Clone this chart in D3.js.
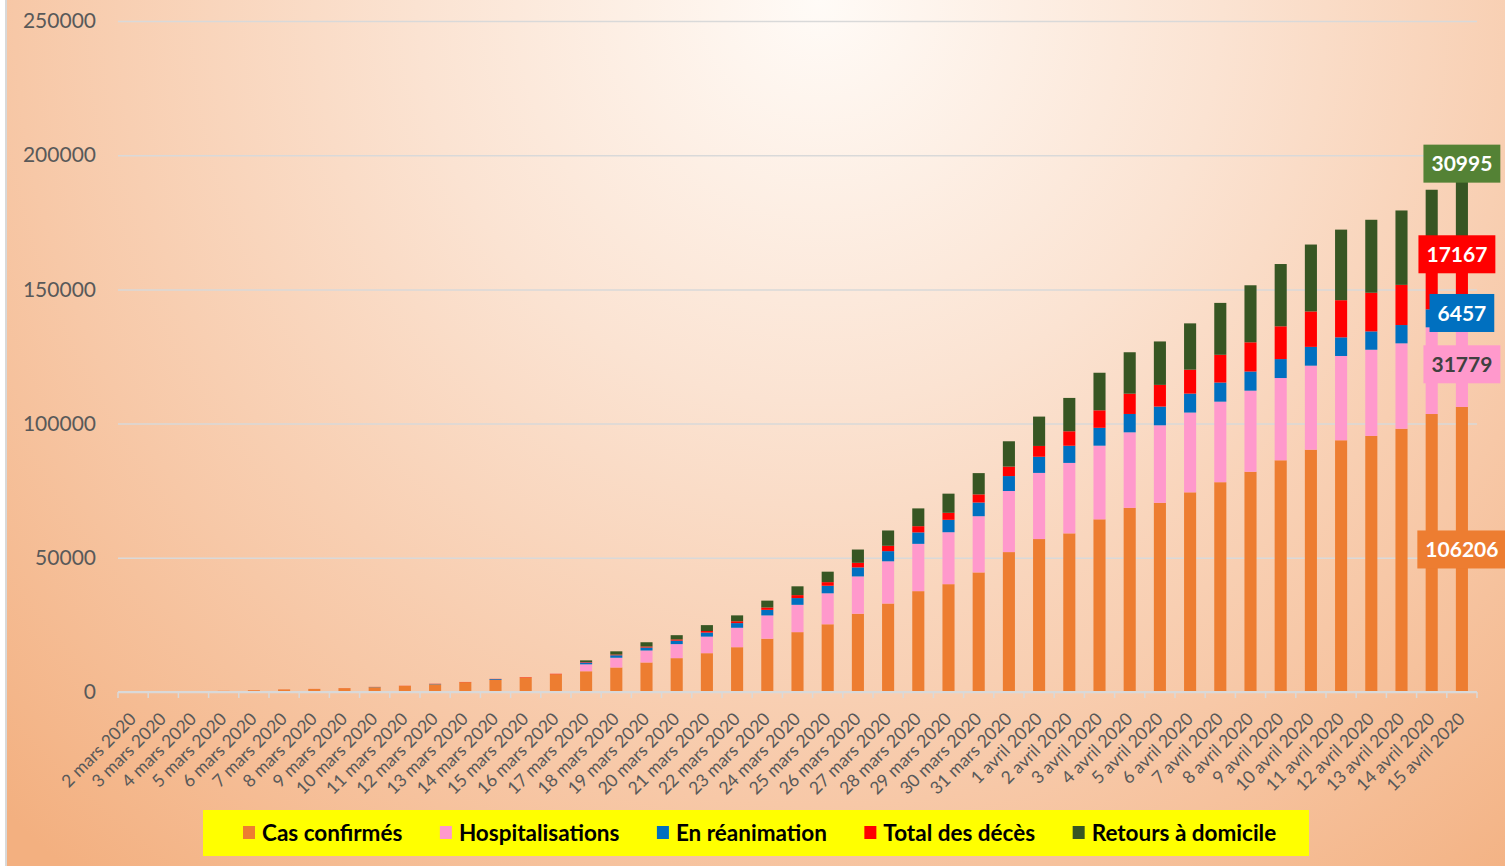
<!DOCTYPE html>
<html>
<head>
<meta charset="utf-8">
<script src="https://cdn.jsdelivr.net/npm/d3@7"></script>
<style>
  body { margin: 0; background: #ffffff; }
  svg { display: block; }
  text { font-family: Lato, "Liberation Sans", sans-serif; }
</style>
</head>
<body>
<div id="chart"></div>
<script>
// ------- Data -------
const dates = [
  "2 mars 2020", "3 mars 2020", "4 mars 2020", "5 mars 2020", "6 mars 2020",
  "7 mars 2020", "8 mars 2020", "9 mars 2020", "10 mars 2020", "11 mars 2020",
  "12 mars 2020", "13 mars 2020", "14 mars 2020", "15 mars 2020", "16 mars 2020",
  "17 mars 2020", "18 mars 2020", "19 mars 2020", "20 mars 2020", "21 mars 2020",
  "22 mars 2020", "23 mars 2020", "24 mars 2020", "25 mars 2020", "26 mars 2020",
  "27 mars 2020", "28 mars 2020", "29 mars 2020", "30 mars 2020", "31 mars 2020",
  "1 avril 2020", "2 avril 2020", "3 avril 2020", "4 avril 2020", "5 avril 2020",
  "6 avril 2020", "7 avril 2020", "8 avril 2020", "9 avril 2020", "10 avril 2020",
  "11 avril 2020", "12 avril 2020", "13 avril 2020", "14 avril 2020", "15 avril 2020"
];

const casConfirmes = [
  191, 212, 285, 423, 653, 949, 1126, 1412, 1784, 2281,
  2876, 3661, 4499, 5423, 6633, 7730, 9134, 10995, 12612, 14459,
  16689, 19856, 22302, 25233, 29155, 32964, 37575, 40174, 44550, 52128,
  56989, 59105, 64338, 68605, 70478, 74390, 78167, 82048, 86334, 90276,
  93790, 95403, 98076, 103573, 106206
];

const hospitalisations = [
  0, 0, 0, 0, 0, 0, 0, 0, 0, 0,
  0, 0, 0, 0, 0, 2579, 3626, 4461, 5226, 6172,
  7240, 8675, 10176, 11539, 13904, 15732, 17620, 19354, 20946, 22757,
  24639, 26246, 27432, 28143, 28891, 29722, 30008, 30217, 30639, 31305,
  31400, 32113, 31826, 32292, 31779
];

const reanimation = [
  0, 0, 0, 0, 0, 0, 0, 0, 86, 0,
  129, 0, 300, 0, 0, 699, 931, 1122, 1297, 1525,
  1746, 2082, 2516, 2827, 3375, 3787, 4273, 4632, 5107, 5565,
  6017, 6399, 6662, 6838, 6978, 7072, 7131, 7148, 7066, 7004,
  6950, 6845, 6821, 6730, 6457
];

const deces = [
  3, 4, 4, 7, 9, 16, 19, 30, 33, 48,
  61, 79, 91, 127, 148, 175, 264, 372, 450, 562,
  674, 860, 1100, 1331, 1696, 1995, 2314, 2606, 3024, 3523,
  4032, 5387, 6507, 7560, 8078, 8911, 10328, 10869, 12210, 13197,
  13832, 14393, 14967, 15729, 17167
];

const retours = [
  0, 0, 0, 0, 0, 0, 0, 0, 0, 0,
  0, 0, 0, 0, 0, 602, 1200, 1587, 1587, 2200,
  2200, 2567, 3281, 3900, 4948, 5700, 6624, 7132, 7927, 9444,
  10935, 12428, 14008, 15438, 16183, 17250, 19337, 21254, 23206, 24932,
  26300, 27186, 27718, 28805, 30995
];

const yTicks = [0, 50000, 100000, 150000, 200000, 250000];

const keys = ["cas", "hosp", "rea", "deces", "retours"];
const seriesNames = ["Cas confirmés", "Hospitalisations", "En réanimation", "Total des décès", "Retours à domicile"];
const seriesColors = ["#ED7D31", "#FF99CC", "#0070C0", "#FF0000", "#375623"];
const labelFill = ["#ED7D31", "#FF99CC", "#0070C0", "#FF0000", "#548235"];
const labelText = ["#ffffff", "#404040", "#ffffff", "#ffffff", "#ffffff"];

// ------- Layout -------
const W = 1505, H = 866;
const plot = { left: 118, right: 1477, top: 21, bottom: 692 };
// label boxes on the last bar were moved by hand in the original
const labelNudgeX = [0, 0, 0, -5, 0];
const labelNudgeY = [0, 0, 0, -27, -53];

const rows = dates.map((d, i) => ({
  date: d,
  cas: casConfirmes[i],
  hosp: hospitalisations[i],
  rea: reanimation[i],
  deces: deces[i],
  retours: retours[i]
}));

const svg = d3.select("#chart")
  .append("svg")
  .attr("width", W)
  .attr("height", H);

// background gradient
const defs = svg.append("defs");
const grad = defs.append("radialGradient")
  .attr("id", "bg")
  .attr("gradientUnits", "userSpaceOnUse")
  .attr("cx", 820).attr("cy", 0).attr("r", 1150);
[[0, "#fffbf7"], [0.35, "#fbe3d2"], [0.7, "#f7c8a7"], [1, "#f3b080"]].forEach(s => {
  grad.append("stop").attr("offset", s[0]).attr("stop-color", s[1]);
});

svg.append("rect")
  .attr("x", 7).attr("y", 0)
  .attr("width", W - 7).attr("height", H)
  .attr("fill", "url(#bg)");

svg.append("line")
  .attr("x1", 6).attr("x2", 6)
  .attr("y1", 0).attr("y2", H)
  .attr("stroke", "#d9d9d9")
  .attr("stroke-width", 2);

// ------- Scales -------
const x = d3.scaleBand()
  .domain(dates)
  .range([plot.left, plot.right])
  .paddingInner(0.6)
  .paddingOuter(0.3);

const y = d3.scaleLinear()
  .domain([0, 250000])
  .range([plot.bottom, plot.top]);

const color = d3.scaleOrdinal().domain(keys).range(seriesColors);

// ------- Gridlines + Y axis -------
const yAxis = svg.append("g")
  .attr("transform", `translate(${plot.left},0)`)
  .call(d3.axisLeft(y)
    .tickValues(yTicks)
    .tickSize(-(plot.right - plot.left))
    .tickPadding(22)
    .tickFormat(d3.format("d")));

yAxis.select(".domain").remove();
yAxis.selectAll("line")
  .attr("stroke", "#d9d9d9")
  .attr("stroke-width", 1.5);
yAxis.selectAll("text")
  .attr("fill", "#595959")
  .style("font-size", "21px");

// ------- Bars -------
const stacked = d3.stack().keys(keys)(rows);

svg.append("g")
  .selectAll("g")
  .data(stacked)
  .enter()
  .append("g")
  .attr("fill", d => color(d.key))
  .selectAll("rect")
  .data(d => d)
  .enter()
  .append("rect")
  .attr("x", d => x(d.data.date))
  .attr("width", x.bandwidth())
  .attr("y", d => y(d[1]))
  .attr("height", d => y(d[0]) - y(d[1]));

// ------- X axis -------
svg.append("line")
  .attr("x1", plot.left).attr("x2", plot.right)
  .attr("y1", plot.bottom).attr("y2", plot.bottom)
  .attr("stroke", "#d9d9d9")
  .attr("stroke-width", 2);

const step = x.step();
svg.append("g")
  .selectAll("line")
  .data(d3.range(dates.length + 1))
  .enter()
  .append("line")
  .attr("x1", i => plot.left + i * step)
  .attr("x2", i => plot.left + i * step)
  .attr("y1", plot.bottom)
  .attr("y2", plot.bottom + 6)
  .attr("stroke", "#d9d9d9")
  .attr("stroke-width", 1.5);

const xAxis = svg.append("g")
  .attr("transform", `translate(0,${plot.bottom})`)
  .call(d3.axisBottom(x).tickSize(0).tickSizeOuter(0));

xAxis.select(".domain").remove();
xAxis.selectAll("text")
  .attr("x", 0)
  .attr("y", 0)
  .attr("dy", 0)
  .attr("transform", "translate(4,28) rotate(-45)")
  .attr("text-anchor", "end")
  .attr("fill", "#595959")
  .style("font-size", "17.5px");

// ------- Value labels on last bar -------
const lastIdx = dates.length - 1;
const lastX = x(dates[lastIdx]) + x.bandwidth() / 2;

const labels = svg.append("g");
stacked.forEach((s, i) => {
  const seg = s[lastIdx];
  const cy = (y(seg[0]) + y(seg[1])) / 2 + labelNudgeY[i];
  const cx = lastX + labelNudgeX[i];
  const g = labels.append("g").attr("transform", `translate(${cx},${cy})`);
  const rect = g.append("rect").attr("fill", labelFill[i]);
  const t = g.append("text")
    .attr("text-anchor", "middle")
    .attr("dy", "0.36em")
    .attr("fill", labelText[i])
    .style("font-size", "21px")
    .style("font-weight", "bold")
    .text(seg[1] - seg[0]);
  const w = t.node().getComputedTextLength() + 16;
  rect.attr("x", -w / 2).attr("y", -19).attr("width", w).attr("height", 38);
});

// ------- Legend -------
const legendBox = { x: 203, y: 810, w: 1106, h: 46 };
svg.append("rect")
  .attr("x", legendBox.x).attr("y", legendBox.y)
  .attr("width", legendBox.w).attr("height", legendBox.h)
  .attr("fill", "#FFFF00");

const legend = svg.append("g")
  .attr("transform", `translate(243,${legendBox.y + legendBox.h / 2})`);
let lx = 0;
seriesNames.forEach((name, i) => {
  const g = legend.append("g").attr("transform", `translate(${lx},0)`);
  g.append("rect")
    .attr("x", 0).attr("y", -7)
    .attr("width", 12).attr("height", 13)
    .attr("fill", seriesColors[i]);
  const t = g.append("text")
    .attr("x", 19)
    .attr("dy", "0.36em")
    .attr("fill", "#000")
    .style("font-size", "22.5px")
    .style("font-weight", "bold")
    .text(name);
  lx += 19 + t.node().getComputedTextLength() + 37.5;
});
</script>
</body>
</html>
